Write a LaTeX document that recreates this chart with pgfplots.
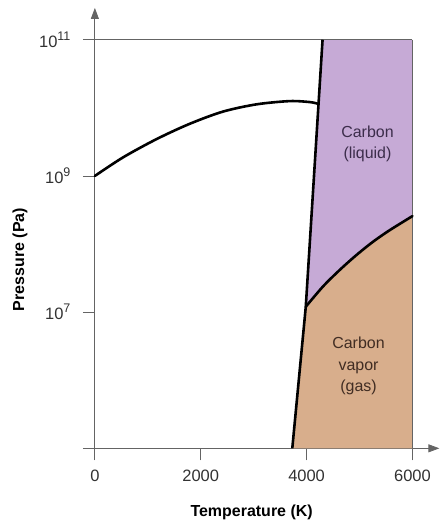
\documentclass[border=0pt]{standalone}
\usepackage{pgfplots}
\pgfplotsset{compat=1.18}
\usepackage{fontspec}
\setmainfont{Liberation Sans}
\usetikzlibrary{arrows.meta}
\definecolor{liquid}{RGB}{198,170,214}
\definecolor{vapor}{RGB}{216,174,140}
\definecolor{axisgray}{RGB}{100,100,100}
\definecolor{labelgray}{RGB}{50,50,50}
\definecolor{liqtext}{RGB}{60,45,75}
\definecolor{vaptext}{RGB}{65,45,35}
\newcommand{\pw}[1]{10\raisebox{0.42em}{\fontsize{12.5}{12.5}\selectfont #1}}

\begin{document}
\begin{tikzpicture}
\begin{axis}[
  scale only axis, width=345pt, height=441pt,
  ymode=log,
  xmin=0, xmax=6509, ymin=1e5, ymax=2.93e11,
  axis lines=left,
  axis line style={axisgray, line width=0.8pt, -{Triangle[length=11pt,width=8pt]}},
  tick style={axisgray, line width=0.8pt},
  tick align=outside, major tick length=12pt,
  xtick={0,2000,4000,6000}, xticklabels={0,2000,4000,6000},
  ytick={1e5,1e7,1e9,1e11},
  yticklabels={,\pw{7},\pw{9},\pw{11}},
  yminorticks=false, xminorticks=false,
  ticklabel style={font=\fontsize{16.5}{19}\selectfont, text=labelgray},
  xticklabel style={yshift=-6pt},
  yticklabel style={xshift=-9pt},
  xlabel={Temperature (K)}, ylabel={Pressure (Pa)},
  label style={font=\fontsize{16}{19}\selectfont\bfseries},
  xlabel style={at={(rel axis cs:0.455,0)}, anchor=center, yshift=-64pt},
  ylabel style={at={(rel axis cs:0,0.4286)}, anchor=center, yshift=75pt},
  clip=false,
]
% liquid region
\addplot[fill=liquid, draw=none] coordinates {
  (4302,1e11) (3985,1.2e7) (4308,2.37e7) (4623,4.14e7) (4938,6.85e7)
  (5251,1.074e8) (5566,1.589e8) (6000,2.57e8) (6000,1e11)
} -- cycle;
% vapor region
\addplot[fill=vapor, draw=none] coordinates {
  (3730,1e5) (3985,1.2e7) (4308,2.37e7) (4623,4.14e7) (4938,6.85e7)
  (5251,1.074e8) (5566,1.589e8) (6000,2.57e8) (6000,1e5)
} -- cycle;
% frame lines
\addplot[axisgray, line width=0.8pt] coordinates {(0,1e11) (6000,1e11)};
\addplot[axisgray, line width=0.6pt] coordinates {(6000,1e5) (6000,1e11)};
% solid-solid boundary
\addplot[black, line width=2.6pt, smooth, line cap=round] coordinates {
  (0,1.0e9) (534,1.876e9) (1164,3.47e9) (1792,5.83e9) (2421,8.81e9)
  (3051,1.125e10) (3679,1.256e10) (4057,1.216e10) (4213,1.15e10)
};
% liquid-vapor boundary
\addplot[black, line width=2.6pt, smooth, line cap=round] coordinates {
  (3985,1.2e7) (4308,2.37e7) (4623,4.14e7) (4938,6.85e7)
  (5251,1.074e8) (5566,1.589e8) (6000,2.57e8)
};
% melting / sublimation line
\addplot[black, line width=2.6pt, line join=round] coordinates {
  (3730,1e5) (3985,1.2e7) (4302,1e11)
};
\node[align=center, text=liqtext, font=\fontsize{16}{21.5}\selectfont]
  at (axis cs:5151,2.95e9) {Carbon\\(liquid)};
\node[align=center, text=vaptext, font=\fontsize{16}{21.5}\selectfont]
  at (axis cs:4981,1.62e6) {Carbon\\vapor\\(gas)};
% page size as in the reference
\path (rel axis cs:-0.2754,-0.1678) rectangle (rel axis cs:1.0029,1.0181);
\end{axis}
\end{tikzpicture}
\end{document}
